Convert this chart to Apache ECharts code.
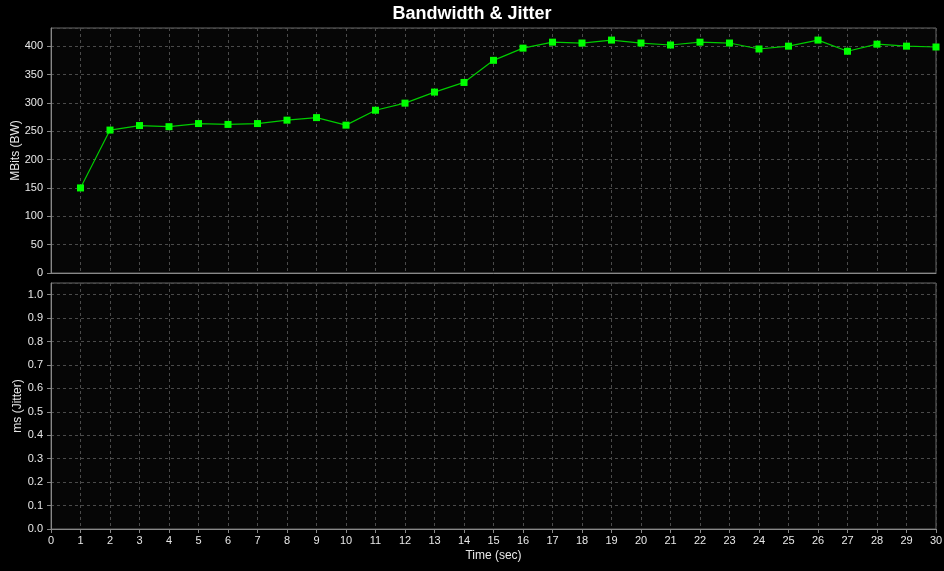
<!DOCTYPE html>
<html><head><meta charset="utf-8">
<script src="https://cdn.jsdelivr.net/npm/echarts@6/dist/echarts.min.js"></script>
<style>html,body{margin:0;padding:0;background:#000;}#c{width:944px;height:571px;}</style>
</head><body><div id="c"></div>
<script>
const times = [1,2,3,4,5,6,7,8,9,10,11,12,13,14,15,16,17,18,19,20,21,22,23,24,25,26,27,28,29,30];
const bandwidth = [150,252,260,258,263.5,262,263.5,269.5,274,260.7,287,299.5,319,336,375,396.5,407,405.5,410.7,405.5,402,407,405.5,395,400,410.7,391,403.5,400,398.5];
const jitter = [];

const chart = echarts.init(document.getElementById('c'));
const font = 'Liberation Sans';
const gridLine = {show:true, lineStyle:{color:'#4a4a4a', type:[3,3], width:1}};
const axisLine = {show:true, lineStyle:{color:'#888', width:1}};
const tick = {show:true, length:4, lineStyle:{color:'#888'}};
const lbl = {color:'#e8e8e8', fontSize:11, fontFamily:font};

chart.setOption({
  backgroundColor:'#000',
  animation:false,
  title:{text:'Bandwidth & Jitter', left:'center', top:0, textStyle:{color:'#fff', fontSize:18, fontWeight:'bold', fontFamily:font}},
  grid:[
    {left:51, top:28, right:8, height:245, show:true, backgroundColor:'#060606', borderColor:'#666', borderWidth:1, containLabel:false, outerBoundsMode:'none'},
    {left:51, top:283, right:8, height:246, show:true, backgroundColor:'#060606', borderColor:'#666', borderWidth:1, containLabel:false, outerBoundsMode:'none'}
  ],
  xAxis:[
    {type:'value', gridIndex:0, min:0, max:30, interval:1, axisLine:axisLine, axisTick:{show:false}, axisLabel:{show:false}, splitLine:gridLine},
    {type:'value', gridIndex:1, min:0, max:30, interval:1, axisLine:axisLine, axisTick:tick, axisLabel:Object.assign({margin:6}, lbl), splitLine:gridLine,
     name:'Time (sec)', nameLocation:'middle', nameGap:21, nameTextStyle:{color:'#e8e8e8', fontSize:12, fontFamily:font}}
  ],
  yAxis:[
    {type:'value', gridIndex:0, min:0, max:432, interval:50, axisLine:axisLine, axisTick:tick, axisLabel:Object.assign({showMaxLabel:false}, lbl), splitLine:gridLine,
     name:'MBits (BW)', nameLocation:'middle', nameGap:29, nameMoveOverlap:false, nameTextStyle:{color:'#e8e8e8', fontSize:12, fontFamily:font}},
    {type:'value', gridIndex:1, min:0, max:1.05, interval:0.1, axisLine:axisLine, axisTick:tick,
     axisLabel:Object.assign({showMaxLabel:false, formatter:v=>v.toFixed(1)}, lbl), splitLine:gridLine,
     name:'ms (Jitter)', nameLocation:'middle', nameGap:27, nameMoveOverlap:false, nameTextStyle:{color:'#e8e8e8', fontSize:12, fontFamily:font}}
  ],
  series:[
    {type:'line', xAxisIndex:0, yAxisIndex:0, data:times.map((t,i)=>[t,bandwidth[i]]),
     symbol:'rect', symbolSize:7, itemStyle:{color:'#00ff00'}, lineStyle:{color:'#00cc00', width:1.2}},
    {type:'line', xAxisIndex:1, yAxisIndex:1, data:jitter,
     symbol:'rect', symbolSize:7, itemStyle:{color:'#00ff00'}, lineStyle:{color:'#00cc00', width:1.2}}
  ]
});
</script></body></html>
